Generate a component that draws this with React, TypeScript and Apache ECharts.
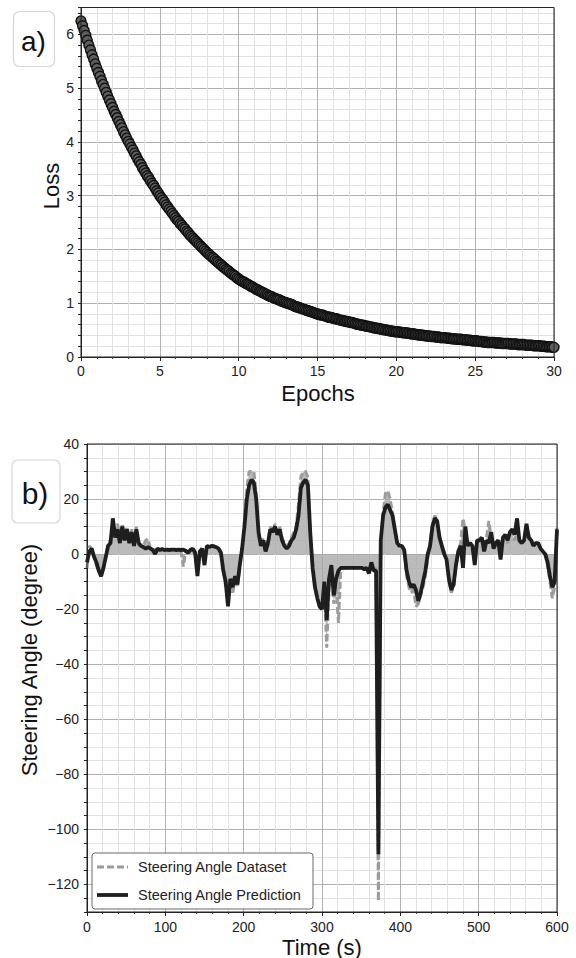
import React, { useEffect, useRef } from 'react';
import * as echarts from 'echarts';

// ---------- Panel a) : training loss (one sample every 0.1 epoch) ----------
const epochs = [
  0, 0.1, 0.2, 0.3, 0.4, 0.5, 0.6, 0.7, 0.8, 0.9,
  1, 1.1, 1.2, 1.3, 1.4, 1.5, 1.6, 1.7, 1.8, 1.9,
  2, 2.1, 2.2, 2.3, 2.4, 2.5, 2.6, 2.7, 2.8, 2.9,
  3, 3.1, 3.2, 3.3, 3.4, 3.5, 3.6, 3.7, 3.8, 3.9,
  4, 4.1, 4.2, 4.3, 4.4, 4.5, 4.6, 4.7, 4.8, 4.9,
  5, 5.1, 5.2, 5.3, 5.4, 5.5, 5.6, 5.7, 5.8, 5.9,
  6, 6.1, 6.2, 6.3, 6.4, 6.5, 6.6, 6.7, 6.8, 6.9,
  7, 7.1, 7.2, 7.3, 7.4, 7.5, 7.6, 7.7, 7.8, 7.9,
  8, 8.1, 8.2, 8.3, 8.4, 8.5, 8.6, 8.7, 8.8, 8.9,
  9, 9.1, 9.2, 9.3, 9.4, 9.5, 9.6, 9.7, 9.8, 9.9,
  10, 10.1, 10.2, 10.3, 10.4, 10.5, 10.6, 10.7, 10.8, 10.9,
  11, 11.1, 11.2, 11.3, 11.4, 11.5, 11.6, 11.7, 11.8, 11.9,
  12, 12.1, 12.2, 12.3, 12.4, 12.5, 12.6, 12.7, 12.8, 12.9,
  13, 13.1, 13.2, 13.3, 13.4, 13.5, 13.6, 13.7, 13.8, 13.9,
  14, 14.1, 14.2, 14.3, 14.4, 14.5, 14.6, 14.7, 14.8, 14.9,
  15, 15.1, 15.2, 15.3, 15.4, 15.5, 15.6, 15.7, 15.8, 15.9,
  16, 16.1, 16.2, 16.3, 16.4, 16.5, 16.6, 16.7, 16.8, 16.9,
  17, 17.1, 17.2, 17.3, 17.4, 17.5, 17.6, 17.7, 17.8, 17.9,
  18, 18.1, 18.2, 18.3, 18.4, 18.5, 18.6, 18.7, 18.8, 18.9,
  19, 19.1, 19.2, 19.3, 19.4, 19.5, 19.6, 19.7, 19.8, 19.9,
  20, 20.1, 20.2, 20.3, 20.4, 20.5, 20.6, 20.7, 20.8, 20.9,
  21, 21.1, 21.2, 21.3, 21.4, 21.5, 21.6, 21.7, 21.8, 21.9,
  22, 22.1, 22.2, 22.3, 22.4, 22.5, 22.6, 22.7, 22.8, 22.9,
  23, 23.1, 23.2, 23.3, 23.4, 23.5, 23.6, 23.7, 23.8, 23.9,
  24, 24.1, 24.2, 24.3, 24.4, 24.5, 24.6, 24.7, 24.8, 24.9,
  25, 25.1, 25.2, 25.3, 25.4, 25.5, 25.6, 25.7, 25.8, 25.9,
  26, 26.1, 26.2, 26.3, 26.4, 26.5, 26.6, 26.7, 26.8, 26.9,
  27, 27.1, 27.2, 27.3, 27.4, 27.5, 27.6, 27.7, 27.8, 27.9,
  28, 28.1, 28.2, 28.3, 28.4, 28.5, 28.6, 28.7, 28.8, 28.9,
  29, 29.1, 29.2, 29.3, 29.4, 29.5, 29.6, 29.7, 29.8, 29.9,
  30,
];
const loss = [
  6.25, 6.16, 6.07, 5.98, 5.89, 5.8, 5.71, 5.62, 5.54, 5.45,
  5.37, 5.29, 5.22, 5.14, 5.07, 5.0, 4.92, 4.85, 4.78, 4.71,
  4.64, 4.57, 4.51, 4.45, 4.38, 4.32, 4.26, 4.19, 4.13, 4.07,
  4.01, 3.96, 3.9, 3.85, 3.79, 3.74, 3.68, 3.63, 3.58, 3.52,
  3.47, 3.42, 3.37, 3.33, 3.28, 3.23, 3.19, 3.14, 3.09, 3.05,
  3.0, 2.96, 2.92, 2.88, 2.83, 2.79, 2.75, 2.71, 2.67, 2.63,
  2.59, 2.55, 2.52, 2.48, 2.45, 2.41, 2.38, 2.34, 2.31, 2.27,
  2.24, 2.21, 2.18, 2.15, 2.12, 2.09, 2.06, 2.03, 2.0, 1.97,
  1.94, 1.91, 1.89, 1.86, 1.84, 1.81, 1.78, 1.76, 1.73, 1.71,
  1.68, 1.66, 1.63, 1.61, 1.59, 1.56, 1.54, 1.52, 1.5, 1.47,
  1.45, 1.43, 1.41, 1.4, 1.38, 1.36, 1.35, 1.33, 1.31, 1.3,
  1.28, 1.26, 1.25, 1.23, 1.22, 1.2, 1.19, 1.17, 1.16, 1.14,
  1.13, 1.12, 1.1, 1.09, 1.08, 1.07, 1.06, 1.04, 1.03, 1.02,
  1.01, 1.0, 0.99, 0.98, 0.97, 0.95, 0.94, 0.93, 0.92, 0.91,
  0.9, 0.89, 0.88, 0.87, 0.86, 0.85, 0.84, 0.83, 0.82, 0.81,
  0.8, 0.79, 0.78, 0.78, 0.77, 0.76, 0.75, 0.74, 0.74, 0.73,
  0.72, 0.71, 0.71, 0.7, 0.69, 0.68, 0.68, 0.67, 0.66, 0.66,
  0.65, 0.64, 0.64, 0.63, 0.62, 0.61, 0.61, 0.6, 0.59, 0.59,
  0.58, 0.57, 0.57, 0.56, 0.56, 0.55, 0.54, 0.54, 0.53, 0.53,
  0.52, 0.51, 0.51, 0.5, 0.5, 0.49, 0.49, 0.48, 0.48, 0.47,
  0.47, 0.47, 0.46, 0.46, 0.45, 0.45, 0.45, 0.44, 0.44, 0.43,
  0.43, 0.43, 0.42, 0.42, 0.41, 0.41, 0.41, 0.4, 0.4, 0.39,
  0.39, 0.39, 0.38, 0.38, 0.38, 0.37, 0.37, 0.37, 0.36, 0.36,
  0.36, 0.36, 0.35, 0.35, 0.35, 0.34, 0.34, 0.34, 0.33, 0.33,
  0.33, 0.33, 0.32, 0.32, 0.32, 0.31, 0.31, 0.31, 0.3, 0.3,
  0.3, 0.3, 0.29, 0.29, 0.29, 0.28, 0.28, 0.28, 0.27, 0.27,
  0.27, 0.27, 0.27, 0.26, 0.26, 0.26, 0.26, 0.25, 0.25, 0.25,
  0.25, 0.25, 0.24, 0.24, 0.24, 0.24, 0.24, 0.23, 0.23, 0.23,
  0.23, 0.23, 0.22, 0.22, 0.22, 0.22, 0.22, 0.21, 0.21, 0.21,
  0.21, 0.21, 0.2, 0.2, 0.2, 0.19, 0.19, 0.19, 0.19, 0.18,
  0.18,
];

// ---------- Panel b) : steering angle ----------
const timeS = [
  0, 3, 6, 9, 12, 15, 18, 21, 24, 27,
  30, 33, 36, 39, 42, 45, 48, 51, 54, 57,
  60, 63, 66, 69, 72, 75, 78, 81, 84, 87,
  90, 93, 96, 99, 102, 105, 108, 111, 114, 117,
  120, 123, 126, 129, 132, 135, 138, 141, 144, 147,
  150, 153, 156, 159, 162, 165, 168, 171, 174, 177,
  180, 183, 186, 189, 192, 195, 198, 201, 204, 207,
  210, 213, 216, 219, 222, 225, 228, 231, 234, 237,
  240, 243, 246, 249, 252, 255, 258, 261, 264, 267,
  270, 273, 276, 279, 282, 285, 288, 291, 294, 297,
  300, 303, 306, 309, 312, 315, 318, 321, 324, 327,
  330, 333, 336, 339, 342, 345, 348, 351, 354, 357,
  360, 363, 366, 369, 372, 375, 378, 381, 384, 387,
  390, 393, 396, 399, 402, 405, 408, 411, 414, 417,
  420, 423, 426, 429, 432, 435, 438, 441, 444, 447,
  450, 453, 456, 459, 462, 465, 468, 471, 474, 477,
  480, 483, 486, 489, 492, 495, 498, 501, 504, 507,
  510, 513, 516, 519, 522, 525, 528, 531, 534, 537,
  540, 543, 546, 549, 552, 555, 558, 561, 564, 567,
  570, 573, 576, 579, 582, 585, 588, 591, 594, 597,
  600,
];
const datasetAngle = [
  -5, 3, 2, -1, -4, -6, -8, -5, -1, 4,
  5, 10, 8, 11, 6, 11, 7, 10, 5, 9,
  4, 10, 3, 3, 3, 5, 5.5, 2, 2, 1,
  2, 2, 1.5, 1.5, 1.5, 1.5, 1.5, 1.5, 1.5, 1.5,
  1, -4.5, 1, 1, 1.5, 2, 1, -5, 1, 2,
  -2, 3, 3, 3, 3, 2.5, 2, 0, -5, -12,
  -15, -10, -14, -10, -12, -5, 2, 12, 24, 30,
  30, 30, 22, 6, 4, 6, 2, 5, 10, 8,
  11, 8, 10, 6, 4, 3, 4, 6, 8, 10,
  18, 28, 30, 30, 28, 6, -3, -10, -15, -20,
  -18, -12, -34, -12, -6, -18, -12, -25, -6, -5,
  -5, -5, -5, -5, -5, -5, -5, -5, -5, -5,
  -6, -4, -6, -5, -126, 3, 15, 22, 23, 20,
  15, 8, 4, 2, 3, 1, -8, -12, -14, -13,
  -19, -18, -15, -12, -8, -1, 4, 11, 14, 12,
  7, 3, 1, -2, -10, -14, -12, -5, 1, 4,
  13, 8, 4, 3, 2, -2, 4, 5, 5, 3,
  6, 12, 6, 3, 3, 4, 2, 5, 6, 4,
  8, 7, 5, 10, 4, 4, 5, 8, 7, 4,
  3, 4, 3, 2, 1, 0, -4, -10, -16, -12,
  10,
];
const predictionAngle = [
  -3, 1, 2, -1, -3, -6, -8, -5, -1, 3,
  4, 13, 6, 9, 4, 10, 5, 9, 4, 8,
  3, 9, 4, 3, 2.5, 2, 2.5, 2, 1.5, 0,
  2, 1.5, 1.8, 1.5, 1.6, 1.5, 1.6, 1.6, 1.5, 1.6,
  1.5, 1.6, 1.2, 0.5, 1.5, 2, 0.5, -8, 1, 2,
  -4, 3, 2.5, 3, 2.8, 2.5, 2, 0.5, -6, -10,
  -19, -9, -12, -8, -11, -4, 2, 10, 20, 25,
  27, 26, 20, 8, 3, 5, 1, 4, 9, 8,
  10, 7, 9, 5, 3, 2, 3, 5, 6, 9,
  14, 24, 26, 27, 25, 8, -5, -12, -16, -19,
  -20, -10, -24, -9, -4, -15, -9, -6, -5, -5,
  -5, -5, -5, -5, -5, -5, -5, -5, -5.5, -5,
  -7, -3, -6, -6, -109, 5, 14, 17, 18, 16,
  14, 9, 4, 3, 3, 1.5, -6, -10, -12, -11,
  -13, -17, -14, -10, -6, 0, 3, 10, 13, 12,
  6, 3, 0, -2, -9, -13, -11, -4, 1, 3,
  -5, 10, 3, 4, 3, -4, 5, 5, 6, 1,
  5, 4, 8, 2, 4, 5, -2, 6, 7, 5,
  8, 9, 7, 13, 5, 4, 5, 11, 6, 5,
  3, 4, 4, 2, 1, 0, -3, -8, -12, -10,
  9,
];

const seriesNames = ['Steering Angle Dataset', 'Steering Angle Prediction'];

const FONT = '"Liberation Sans", Arial, Helvetica, sans-serif';
const MAJOR = '#b2b2b2';
const MINOR = '#e2e2e2';
const INK = '#222222';
const GRAY_LINE = '#9c9c9c';
const BLACK_LINE = '#1e1e1e';

const fmtMinus = (v: number) => String(v).replace('-', '\u2212');

export default function App() {
  const ref = useRef<HTMLDivElement>(null);

  useEffect(() => {
    if (!ref.current) return;
    const chart = echarts.init(ref.current, null, { renderer: 'svg' });

    const labelStyle = { fontSize: 14, color: INK, fontFamily: FONT };
    const axisLine = { show: true, onZero: false, lineStyle: { color: INK, width: 1 } };
    const axisTick = { show: true, inside: false, length: 4, lineStyle: { color: INK, width: 1 } };
    const minorTick = { show: true, splitNumber: 5, length: 2, lineStyle: { color: '#444', width: 1 } };

    const topGrid = { left: 81, top: 7.5, width: 473, height: 349.5 };
    const botGrid = { left: 87, top: 444, width: 470, height: 468 };

    chart.setOption({
      animation: false,
      backgroundColor: '#ffffff',
      textStyle: { fontFamily: FONT },
      grid: [
        { ...topGrid, show: false, containLabel: false, outerBoundsMode: 'none' },
        { ...botGrid, show: false, containLabel: false, outerBoundsMode: 'none' },
      ],
      xAxis: [
        {
          type: 'value', gridIndex: 0, min: 0, max: 30, interval: 5,
          axisLine, axisTick, minorTick,
          splitLine: { show: true, lineStyle: { color: MAJOR, width: 1 } },
          minorSplitLine: { show: true, lineStyle: { color: MINOR, width: 1 } },
          axisLabel: { ...labelStyle, margin: 7 },
        },
        {
          type: 'value', gridIndex: 1, min: 0, max: 600, interval: 100,
          axisLine, axisTick, minorTick,
          splitLine: { show: true, lineStyle: { color: MAJOR, width: 1 } },
          minorSplitLine: { show: true, lineStyle: { color: MINOR, width: 1 } },
          axisLabel: { ...labelStyle, margin: 8 },
        },
      ],
      yAxis: [
        {
          type: 'value', gridIndex: 0, min: 0, max: 6.5, interval: 0.2,
          axisLine, axisTick: { ...axisTick, length: 3 },
          splitLine: { show: true, lineStyle: { color: [MAJOR, MINOR, MINOR, MINOR, MINOR], width: 1 } },
          axisLabel: {
            ...labelStyle, margin: 7,
            formatter: (v: number) => (Math.abs(v - Math.round(v)) < 1e-6 ? String(Math.round(v)) : ''),
          },
        },
        {
          type: 'value', gridIndex: 1, min: -130, max: 40, interval: 5,
          axisLine, axisTick: { ...axisTick, length: 3 },
          splitLine: { show: true, lineStyle: { color: [MINOR, MINOR, MAJOR, MINOR], width: 1 } },
          axisLabel: {
            ...labelStyle, margin: 8,
            formatter: (v: number) => (Math.round(v) % 20 === 0 ? fmtMinus(Math.round(v)) : ''),
          },
        },
      ],
      series: [
        {
          type: 'scatter', xAxisIndex: 0, yAxisIndex: 0,
          data: epochs.map((e, i) => [e, loss[i]]),
          symbol: 'circle', symbolSize: 10,
          itemStyle: { color: '#5e5e5e', borderColor: '#121212', borderWidth: 1.4, opacity: 1 },
          z: 3,
        },
        {
          name: seriesNames[0], type: 'line', xAxisIndex: 1, yAxisIndex: 1,
          data: timeS.map((t, i) => [t, datasetAngle[i]]),
          showSymbol: false, symbol: 'none',
          lineStyle: { color: GRAY_LINE, width: 3, type: [7, 3] },
          areaStyle: { color: '#a4a4a4', opacity: 0.75 },
          z: 3,
        },
        {
          name: seriesNames[1], type: 'line', xAxisIndex: 1, yAxisIndex: 1,
          data: timeS.map((t, i) => [t, predictionAngle[i]]),
          showSymbol: false, symbol: 'none',
          lineStyle: { color: BLACK_LINE, width: 3.8 },
          z: 4,
        },
      ],
      graphic: [
        // plot frames
        { type: 'rect', z: 50, silent: true,
          shape: { x: topGrid.left, y: topGrid.top, width: topGrid.width, height: topGrid.height },
          style: { fill: 'none', stroke: INK, lineWidth: 1 } },
        { type: 'rect', z: 50, silent: true,
          shape: { x: botGrid.left, y: botGrid.top, width: botGrid.width, height: botGrid.height },
          style: { fill: 'none', stroke: INK, lineWidth: 1 } },
        // panel tags
        { type: 'rect', z: 50, shape: { x: 13.5, y: 11.5, width: 41, height: 55, r: 6 },
          style: { fill: '#fff', stroke: '#d6d6d6', lineWidth: 1.2 } },
        { type: 'text', z: 51, x: 33.5, y: 41,
          style: { text: 'a)', fontSize: 28, fontFamily: FONT, fill: '#111', align: 'center', verticalAlign: 'middle' } },
        { type: 'rect', z: 50, shape: { x: 12, y: 460, width: 48, height: 63, r: 6 },
          style: { fill: '#fff', stroke: '#d6d6d6', lineWidth: 1.2 } },
        { type: 'text', z: 51, x: 35, y: 493,
          style: { text: 'b)', fontSize: 30, fontFamily: FONT, fill: '#111', align: 'center', verticalAlign: 'middle' } },
        // axis titles
        { type: 'text', z: 51, x: 51, y: 186, rotation: Math.PI / 2,
          style: { text: 'Loss', fontSize: 22, fontFamily: FONT, fill: '#111', align: 'center', verticalAlign: 'middle' } },
        { type: 'text', z: 51, x: 318, y: 393,
          style: { text: 'Epochs', fontSize: 22, fontFamily: FONT, fill: '#111', align: 'center', verticalAlign: 'middle' } },
        { type: 'text', z: 51, x: 29, y: 660, rotation: Math.PI / 2,
          style: { text: 'Steering Angle (degree)', fontSize: 22, fontFamily: FONT, fill: '#111', align: 'center', verticalAlign: 'middle' } },
        { type: 'text', z: 51, x: 322, y: 947,
          style: { text: 'Time (s)', fontSize: 22, fontFamily: FONT, fill: '#111', align: 'center', verticalAlign: 'middle' } },
        // legend
        { type: 'rect', z: 60, shape: { x: 92, y: 853, width: 221, height: 56, r: 3 },
          style: { fill: '#fff', stroke: '#6a6a6a', lineWidth: 1 } },
        { type: 'line', z: 61, shape: { x1: 97, y1: 867, x2: 128, y2: 867 },
          style: { stroke: GRAY_LINE, lineWidth: 3, lineDash: [7, 3] } },
        { type: 'line', z: 61, shape: { x1: 97, y1: 895, x2: 128, y2: 895 },
          style: { stroke: BLACK_LINE, lineWidth: 3.8 } },
        { type: 'text', z: 61, x: 138, y: 867,
          style: { text: seriesNames[0], fontSize: 14.5, fontFamily: FONT, fill: INK, align: 'left', verticalAlign: 'middle' } },
        { type: 'text', z: 61, x: 138, y: 895,
          style: { text: seriesNames[1], fontSize: 14.5, fontFamily: FONT, fill: INK, align: 'left', verticalAlign: 'middle' } },
      ],
    });

    return () => chart.dispose();
  }, []);

  return (
    <div
      ref={ref}
      style={{ position: 'absolute', left: 0, top: 0, width: 576, height: 958, background: '#fff' }}
    />
  );
}
